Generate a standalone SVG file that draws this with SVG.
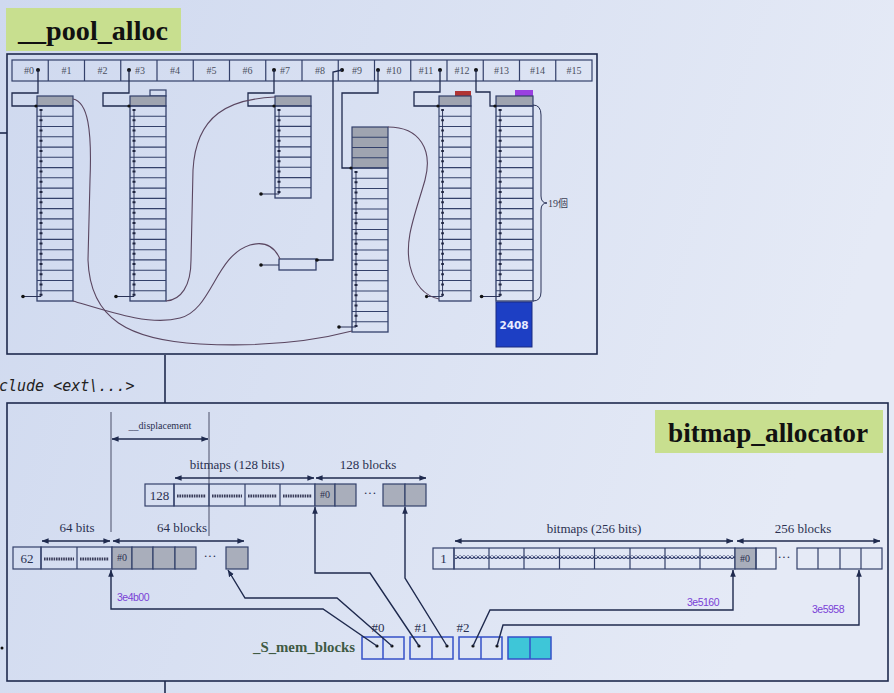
<svg xmlns="http://www.w3.org/2000/svg" width="894" height="693" viewBox="0 0 894 693">
<defs>
<linearGradient id="bg" x1="0" y1="0" x2="1" y2="0.25">
<stop offset="0" stop-color="#cfd9ef"/><stop offset="1" stop-color="#e5eaf6"/>
</linearGradient>
<marker id="ah" viewBox="0 0 10 10" refX="9.5" refY="5" markerWidth="7" markerHeight="7" orient="auto-start-reverse" markerUnits="userSpaceOnUse">
<path d="M0,1 L10,5 L0,9 z" fill="#1f2a4e"/>
</marker>
<pattern id="wave" width="4" height="4" patternUnits="userSpaceOnUse">
<path d="M0,3.5 L2,0.5 L4,3.5" fill="none" stroke="#2f3a6a" stroke-width="1.1"/>
</pattern>
<g id="rows19">
<rect x="0" y="106" width="36" height="195" class="col"/>
<path class="row" d="M0,116.3h36M0,126.5h36M0,136.8h36M0,147.1h36M0,157.3h36M0,167.6h36M0,177.8h36M0,188.1h36M0,198.4h36M0,208.6h36M0,218.9h36M0,229.2h36M0,239.4h36M0,249.7h36M0,259.9h36M0,270.2h36M0,280.5h36M0,290.7h36"/>
<line x1="4" y1="110" x2="4" y2="296.5" class="chain"/>
<line x1="4" y1="109" x2="4" y2="300" class="chaindots"/>
<path d="M-14,296.5H4" class="chain"/><circle cx="-14" cy="296.5" r="1.8" class="dot"/>
</g>
</defs>
<style>
.frame{fill:none;stroke:#1f2a4e;stroke-width:1.6}
.cell{fill:none;stroke:#33406a;stroke-width:1.2}
.col{fill:none;stroke:#33406a;stroke-width:1.3}
.row{fill:none;stroke:#33406a;stroke-width:1.1}
.hdr{fill:#9fa4b0;stroke:#33406a;stroke-width:1.2}
.gray{fill:#a9aebb;stroke:#33406a;stroke-width:1.2}
.chain{fill:none;stroke:#2a3358;stroke-width:1}
.chaindots{fill:none;stroke:#1f2540;stroke-width:3;stroke-dasharray:2 8.263}
.dot{fill:#111}
.link{fill:none;stroke:#1f2a4e;stroke-width:1.3}
.curve{fill:none;stroke:#5a4660;stroke-width:1.1}
.conn{fill:none;stroke:#1f2a4e;stroke-width:1.4;marker-end:url(#ah)}
.dbl{fill:none;stroke:#1f2a4e;stroke-width:1.3;marker-start:url(#ah);marker-end:url(#ah)}
.slot{font-family:"Liberation Serif",serif;font-size:10px;fill:#4a4f60;text-anchor:middle}
.lab{font-family:"Liberation Serif",serif;font-size:13px;fill:#2a3050;text-anchor:middle}
.small{font-family:"Liberation Serif",serif;font-size:10px;fill:#2a3050;text-anchor:middle}
.addr{font-family:"Liberation Sans Narrow","Liberation Sans",sans-serif;font-size:10.5px;fill:#7a3fd6;letter-spacing:-0.5px}
.title{font-family:"Liberation Serif",serif;font-weight:bold;font-size:27px;fill:#111}
.bits{fill:none;stroke:#3a3d5a;stroke-width:3;stroke-dasharray:1.6 0.8}
.mem{fill:none;stroke:#3550c8;stroke-width:1.5}
</style>
<rect width="894" height="693" fill="url(#bg)"/>

<g id="slide-bits">
<line x1="0" y1="133" x2="7" y2="133" class="frame"/>
<line x1="165" y1="355" x2="165" y2="403" class="frame"/>
<line x1="165" y1="681" x2="165" y2="693" class="frame"/>
<circle cx="2" cy="648" r="1.5" class="dot"/>
<text x="-1" y="391" font-family="'DejaVu Sans Mono',monospace" font-style="italic" font-size="15" fill="#222">clude &lt;ext\...&gt;</text>
</g>

<g id="pool-title">
<rect x="6" y="8" width="175" height="43" fill="#c8df8f"/>
<text x="18" y="40" class="title" textLength="150" lengthAdjust="spacingAndGlyphs">__pool_alloc</text>
</g>

<g id="pool-frame">
<rect x="7" y="54" width="590" height="300" class="frame"/>
</g>

<g id="free-list-slots">
<rect x="12" y="60" width="580" height="21" class="cell"/>
<path class="cell" d="M48.25,60v21M84.5,60v21M120.75,60v21M157,60v21M193.25,60v21M229.5,60v21M265.75,60v21M302,60v21M338.25,60v21M374.5,60v21M410.75,60v21M447,60v21M483.25,60v21M519.5,60v21M555.75,60v21"/>
<text class="slot" x="29" y="74">#0</text>
<text class="slot" x="66.4" y="74">#1</text>
<text class="slot" x="102.6" y="74">#2</text>
<text class="slot" x="140" y="74">#3</text>
<text class="slot" x="175.1" y="74">#4</text>
<text class="slot" x="211.4" y="74">#5</text>
<text class="slot" x="247.6" y="74">#6</text>
<text class="slot" x="285" y="74">#7</text>
<text class="slot" x="320.1" y="74">#8</text>
<text class="slot" x="357" y="74">#9</text>
<text class="slot" x="394" y="74">#10</text>
<text class="slot" x="426" y="74">#11</text>
<text class="slot" x="462" y="74">#12</text>
<text class="slot" x="501.4" y="74">#13</text>
<text class="slot" x="537.6" y="74">#14</text>
<text class="slot" x="573.9" y="74">#15</text>
<circle cx="38" cy="70" r="2" class="dot"/>
<circle cx="129" cy="70" r="2" class="dot"/>
<circle cx="274" cy="70" r="2" class="dot"/>
<circle cx="342" cy="70" r="2" class="dot"/>
<circle cx="378" cy="70" r="2" class="dot"/>
<circle cx="440" cy="70" r="2" class="dot"/>
<circle cx="476" cy="70" r="2" class="dot"/>
</g>

<g id="chunk-0">
<rect x="37" y="96" width="36" height="10" class="hdr"/>
<use href="#rows19" x="37"/>
</g>
<g id="chunk-3">
<rect x="150" y="90" width="16" height="6" class="cell"/>
<rect x="130" y="96" width="36" height="10" class="hdr"/>
<use href="#rows19" x="130"/>
</g>
<g id="chunk-7">
<rect x="275" y="96" width="36" height="10" class="hdr"/>
<rect x="275" y="106" width="36" height="92" class="col"/>
<path class="row" d="M275,116.2h36M275,126.4h36M275,136.7h36M275,146.9h36M275,157.1h36M275,167.3h36M275,177.6h36M275,187.8h36"/>
<line x1="279" y1="110" x2="279" y2="194" class="chain"/>
<line x1="279" y1="109" x2="279" y2="197" class="chaindots"/>
<path d="M261,194H279" class="chain"/><circle cx="261" cy="194" r="1.8" class="dot"/>
</g>
<g id="chunk-9">
<rect x="279" y="259" width="37" height="11" class="col"/>
<path d="M261,265H279" class="chain"/><circle cx="261" cy="265" r="1.8" class="dot"/>
</g>
<g id="chunk-10">
<rect x="352" y="127" width="36" height="41" class="hdr"/>
<path class="row" d="M352,137.25h36M352,147.5h36M352,157.75h36"/>
<rect x="352" y="168" width="36" height="164" class="col"/>
<path class="row" d="M352,178.25h36M352,188.5h36M352,198.75h36M352,209h36M352,219.25h36M352,229.5h36M352,239.75h36M352,250h36M352,260.25h36M352,270.5h36M352,280.75h36M352,291h36M352,301.25h36M352,311.5h36M352,321.75h36"/>
<line x1="356" y1="172" x2="356" y2="327" class="chain"/>
<line x1="356" y1="171" x2="356" y2="331" class="chaindots"/>
<path d="M339,327H356" class="chain"/><circle cx="339" cy="327" r="1.8" class="dot"/>
</g>
<g id="chunk-11">
<rect x="455" y="91" width="16" height="5" fill="#b03434"/>
<rect x="439" y="96" width="32" height="10" class="hdr"/>
<use href="#rows19" transform="translate(439,0) scale(0.889,1)"/>
</g>
<g id="chunk-12">
<rect x="515" y="90" width="18" height="6" fill="#9a3fe0"/>
<rect x="496" y="96" width="37" height="10" class="hdr"/>
<use href="#rows19" transform="translate(496,0) scale(1.028,1)"/>
<rect x="496" y="302" width="36" height="45" fill="#1d3fc4" stroke="#1a2a80" stroke-width="1"/>
<text x="514" y="329" font-family="'DejaVu Sans',sans-serif" font-weight="bold" font-size="10.5" fill="#e8ecff" text-anchor="middle">2408</text>
<path class="chain" d="M533,105 Q541,105 541,115 L541,196 Q541,203 547,203 Q541,203 541,210 L541,292 Q541,301 533,301"/>
<text x="548" y="207" font-family="'Liberation Serif','Noto Sans CJK TC',serif" font-size="10" fill="#3a3f55">19個</text>
</g>

<g id="pool-connectors">
<path class="link" d="M38,70V93H12V106H37"/>
<path class="link" d="M129,70V93H103V106H130"/>
<path class="link" d="M274,70V93H248V106H275"/>
<path class="link" d="M342,70L333,72V260H317"/>
<circle cx="317" cy="260" r="1.8" class="dot"/>
<path class="link" d="M378,70V93H342V168H352"/>
<path class="link" d="M440,70V92H414V106H439"/>
<path class="link" d="M476,70V92H490V106H496"/>
<circle cx="36" cy="106" r="1.6" class="dot"/>
<circle cx="129" cy="106" r="1.6" class="dot"/>
<circle cx="274" cy="106" r="1.6" class="dot"/>
<circle cx="351" cy="168" r="1.6" class="dot"/>
<circle cx="438" cy="106" r="1.6" class="dot"/>
<circle cx="495" cy="106" r="1.6" class="dot"/>
<path class="curve" d="M73,99 C88,102 92,130 90,180 L88,260 C90,320 130,340 200,344 C260,347 310,342 352,331"/>
<path class="curve" d="M73,301 C110,312 150,326 180,318 C212,310 215,256 250,245 C268,240 276,250 280,259"/>
<path class="curve" d="M275,97 C230,99 196,114 193,170 L191,260 C191,286 181,300 166,301"/>
<path class="curve" d="M388,127 C420,127 433,150 425,180 C415,215 404,240 410,266 C415,286 425,296 439,299"/>
</g>

<g id="bitmap-frame">
<rect x="7" y="403" width="881" height="278" class="frame"/>
</g>
<g id="bitmap-title">
<rect x="655" y="410" width="228" height="43" fill="#c8df8f"/>
<text x="668" y="442" class="title" textLength="200" lengthAdjust="spacingAndGlyphs">bitmap_allocator</text>
</g>

<g id="displacement">
<line x1="111" y1="412" x2="111" y2="532" stroke="#4a4f68" stroke-width="1"/>
<line x1="209" y1="412" x2="209" y2="536" stroke="#4a4f68" stroke-width="1"/>
<line x1="112" y1="439" x2="208" y2="439" class="dbl"/>
<text x="160" y="429" class="small" font-size="9.5">__displacement</text>
</g>

<g id="block-128">
<text x="237" y="469" class="lab">bitmaps (128 bits)</text>
<text x="368" y="469" class="lab">128 blocks</text>
<line x1="175" y1="478" x2="314" y2="478" class="dbl"/>
<line x1="316" y1="478" x2="426" y2="478" class="dbl"/>
<rect x="145" y="484" width="29" height="22" class="cell"/>
<text x="159.5" y="500" class="lab">128</text>
<rect x="174" y="484" width="141" height="22" class="cell"/>
<path class="cell" d="M209,484v22M245,484v22M280,484v22"/>
<path class="bits" d="M177,496H206M212,496H242M248,496H277M283,496H312"/>
<rect x="315" y="484" width="20" height="22" class="gray"/>
<text x="325" y="498" class="small" font-size="9">#0</text>
<rect x="335" y="484" width="21" height="22" class="gray"/>
<text x="370" y="497" class="lab">···</text>
<rect x="383" y="484" width="22" height="22" class="gray"/>
<rect x="405" y="484" width="21" height="22" class="gray"/>
</g>

<g id="block-64">
<text x="77" y="532" class="lab">64 bits</text>
<text x="182" y="532" class="lab">64 blocks</text>
<line x1="42" y1="541" x2="110" y2="541" class="dbl"/>
<line x1="113" y1="541" x2="244" y2="541" class="dbl"/>
<rect x="13" y="547" width="28" height="22" class="cell"/>
<text x="27" y="563" class="lab">62</text>
<rect x="41" y="547" width="71" height="22" class="cell"/>
<path class="cell" d="M77,547v22"/>
<path class="bits" d="M44,559H74M80,559H109"/>
<rect x="112" y="547" width="20" height="22" class="gray"/>
<text x="122" y="561" class="small" font-size="9">#0</text>
<rect x="132" y="547" width="21" height="22" class="gray"/>
<rect x="153" y="547" width="22" height="22" class="gray"/>
<rect x="175" y="547" width="21" height="22" class="gray"/>
<text x="210" y="560" class="lab">···</text>
<rect x="226" y="547" width="22" height="22" class="gray"/>
</g>

<g id="block-256">
<text x="594" y="533" class="lab">bitmaps (256 bits)</text>
<text x="803" y="533" class="lab">256 blocks</text>
<line x1="455" y1="541" x2="733" y2="541" class="dbl"/>
<line x1="737" y1="541" x2="880" y2="541" class="dbl"/>
<rect x="433" y="548" width="21" height="21" class="cell"/>
<text x="443.5" y="563" class="lab" font-size="12">1</text>
<rect x="455" y="555" width="280" height="4" fill="url(#wave)"/>
<rect x="454" y="548" width="281" height="21" class="cell"/>
<path class="cell" d="M489,548v21M524,548v21M559.5,548v21M594.5,548v21M630,548v21M665,548v21M700,548v21"/>
<rect x="735" y="548" width="21" height="21" class="gray"/>
<text x="745" y="562" class="small" font-size="9">#0</text>
<rect x="756" y="548" width="20" height="21" class="cell"/>
<text x="784" y="561" class="lab">···</text>
<rect x="797" y="548" width="85" height="21" class="cell"/>
<path class="cell" d="M818,548v21M840,548v21M861,548v21"/>
</g>

<g id="S_mem_blocks">
<text x="253" y="652" font-family="'Liberation Serif',serif" font-weight="bold" font-size="14" fill="#3f5a44" textLength="102" lengthAdjust="spacingAndGlyphs">_S_mem_blocks</text>
<text x="378" y="632" class="lab">#0</text>
<text x="421" y="632" class="lab">#1</text>
<text x="463" y="632" class="lab">#2</text>
<rect x="362" y="637" width="42" height="22" class="mem"/>
<line x1="383" y1="637" x2="383" y2="659" class="mem"/>
<rect x="410" y="637" width="43" height="22" class="mem"/>
<line x1="432" y1="637" x2="432" y2="659" class="mem"/>
<rect x="459" y="637" width="43" height="22" class="mem"/>
<line x1="481" y1="637" x2="481" y2="659" class="mem"/>
<rect x="508" y="637" width="43" height="22" fill="#3ec6d8" stroke="#3550c8" stroke-width="1.5"/>
<line x1="530" y1="637" x2="530" y2="659" class="mem"/>
<circle cx="377" cy="646" r="1.6" class="dot"/>
<circle cx="392" cy="646" r="1.6" class="dot"/>
<circle cx="419" cy="646" r="1.6" class="dot"/>
<circle cx="447" cy="646" r="1.6" class="dot"/>
<circle cx="473" cy="646" r="1.6" class="dot"/>
<circle cx="497" cy="646" r="1.6" class="dot"/>
</g>

<g id="bitmap-connectors">
<path class="conn" d="M377,646 L323,609 L111,609 L111,570"/>
<path class="conn" d="M392,646 L337,598 L245,598 L228,570"/>
<path class="conn" d="M419,646 L370,573 L315,573 L315,507"/>
<path class="conn" d="M447,646 L405,578 L405,507"/>
<path class="conn" d="M473,646 L490,610 L733,610 L733,570"/>
<path class="conn" d="M497,646 L503,625 L859,625 L859,570"/>
<text x="117" y="601" class="addr">3e4b00</text>
<text x="687" y="606" class="addr">3e5160</text>
<text x="812" y="613" class="addr">3e5958</text>
</g>
</svg>
